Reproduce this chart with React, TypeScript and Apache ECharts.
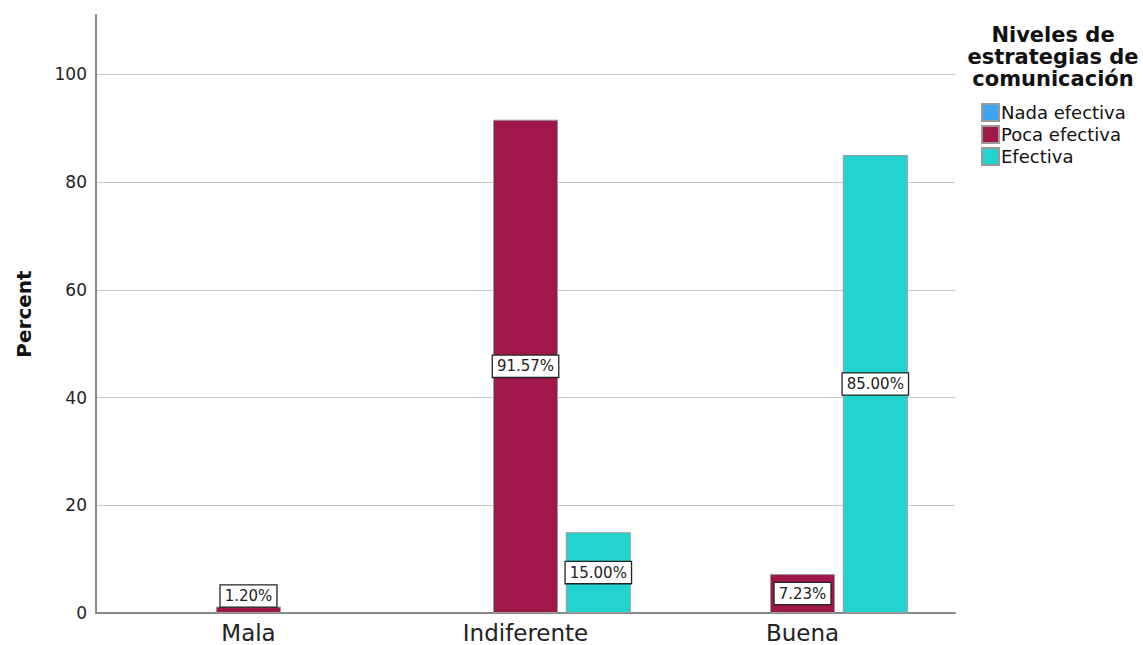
import React, { useEffect, useRef } from "react";
import * as echarts from "echarts";

const categories = ["Mala", "Indiferente", "Buena"];
const seriesNames = ["Nada efectiva", "Poca efectiva", "Efectiva"];
const nadaEfectiva = [0, 0, 0];
const pocaEfectiva = [1.2, 91.57, 7.23];
const efectiva = [0, 15.0, 85.0];
const yTicks = [0, 20, 40, 60, 80, 100];
const legendTitle = ["Niveles de", "estrategias de", "comunicación"];

const colors = ["#3da5f4", "#a0184a", "#22d3cf"];
const FONT = "DejaVu Sans";

export default function App() {
  const ref = useRef<HTMLDivElement>(null);
  useEffect(() => {
    if (!ref.current) return;
    const chart = echarts.init(ref.current, undefined, { renderer: "svg" });
    const yMax = 111;
    const allData = [nadaEfectiva, pocaEfectiva, efectiva];
    const series = allData.map((arr, i) => ({
      type: "bar",
      name: seriesNames[i],
      xAxisIndex: 1,
      yAxisIndex: 1,
      barWidth: 65,
      barGap: "12%",
      itemStyle: { color: colors[i], borderColor: "#9a9a9a", borderWidth: 1 },
      data: arr.map((v) => ({
        value: v,
        itemStyle: v > 0 ? undefined : { borderWidth: 0, opacity: 0 },
        label: {
          show: v > 0,
          position: v < 3 ? "top" : "inside",
          distance: 0,
        },
      })),
      label: {
        fontFamily: FONT,
        fontSize: 15,
        color: "#222",
        backgroundColor: "#fff",
        borderColor: "#222",
        borderWidth: 1.3,
        padding: [3, 4, 3, 4],
        formatter: (p: any) => Number(p.value).toFixed(2) + "%",
      },
    }));
    chart.setOption({
      animation: false,
      grid: [
        { left: 96, right: 188, top: 15, bottom: 32 },
        { left: 110, right: 202, top: 15, bottom: 32 },
      ],
      xAxis: [
        {
          type: "value",
          gridIndex: 0,
          min: 0,
          max: 1,
          axisLine: { show: true, onZero: false, lineStyle: { color: "#8a8a8a", width: 2 } },
          axisTick: { show: false },
          axisLabel: { show: false },
          splitLine: { show: false },
        },
        {
          type: "category",
          gridIndex: 1,
          data: categories,
          axisLine: { show: false },
          axisTick: { show: false },
          axisLabel: { fontFamily: FONT, fontSize: 23, color: "#222", margin: 8 },
        },
      ],
      yAxis: [
        {
          type: "value",
          gridIndex: 0,
          min: yTicks[0],
          max: yMax,
          interval: yTicks[1] - yTicks[0],
          axisLine: { show: true, lineStyle: { color: "#8a8a8a", width: 2 } },
          axisTick: { show: false },
          axisLabel: {
            fontFamily: FONT,
            fontSize: 17,
            color: "#222",
            margin: 9,
            showMaxLabel: false,
            formatter: (v: number) => (yTicks.includes(v) ? String(v) : ""),
          },
          splitLine: {
            show: true,
            showMaxLine: false,
            showMinLine: false,
            lineStyle: { color: "#c8c8c8", width: 1.2 },
          },
          name: "Percent",
          nameLocation: "middle",
          nameGap: 62,
          nameTextStyle: { fontFamily: FONT, fontSize: 20, fontWeight: "bold", color: "#111" },
        },
        {
          type: "value",
          gridIndex: 1,
          min: 0,
          max: yMax,
          show: false,
          splitLine: { show: false },
        },
      ],
      legend: {
        orient: "vertical",
        left: 976,
        top: 98,
        itemWidth: 17,
        itemHeight: 17,
        itemGap: 3,
        icon: "rect",
        data: seriesNames,
        textStyle: {
          fontFamily: FONT,
          fontSize: 18,
          lineHeight: 18,
          color: "#111",
          padding: [0, 0, 0, -3],
        },
      },
      graphic: [
        {
          type: "text",
          x: 1053,
          y: 24,
          style: {
            text: legendTitle.join("\n"),
            font: `bold 21px "${FONT}"`,
            fill: "#111",
            lineHeight: 22,
            align: "center",
          },
        },
      ],
      series,
    });
    return () => chart.dispose();
  }, []);
  return (
    <div
      ref={ref}
      style={{ position: "fixed", left: 0, top: 0, width: 1143, height: 645, background: "#fff" }}
    />
  );
}
